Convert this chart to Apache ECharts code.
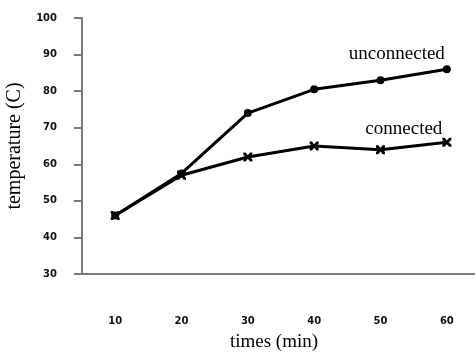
<!DOCTYPE html>
<html><head><meta charset="utf-8">
<script src="https://cdn.jsdelivr.net/npm/echarts@6/dist/echarts.min.js"></script>
<style>html,body{margin:0;padding:0;background:#fff}#c{width:475px;height:356px}</style>
</head><body><div id="c"></div>
<script>
const categories = ['10', '20', '30', '40', '50', '60'];
const unconnected = [46, 57.5, 74, 80.5, 83, 86];
const connected = [46, 57, 62, 65, 64, 66];
const yTicks = {min: 30, max: 100, interval: 10};

const chart = echarts.init(document.getElementById('c'), null, {renderer: 'canvas'});
const serif = '"Liberation Serif", "Times New Roman", serif';
const tickFont = {fontFamily: '"DejaVu Sans", sans-serif', fontSize: 10, fontWeight: 'bold', color: '#111'};
const xMark = 'path://M0,0 L2.5,0 L5,3 L7.5,0 L10,0 L10,2.5 L7,5 L10,7.5 L10,10 L7.5,10 L5,7 L2.5,10 L0,10 L0,7.5 L3,5 L0,2.5 Z';

function lastLabel(arr, name, offset) {
  return arr.map((v, i) => i === arr.length - 1 ? {
    value: v,
    label: {show: true, position: 'top', distance: 0, formatter: name, offset: offset,
      fontFamily: serif, fontSize: 19, color: '#000'}
  } : v);
}

chart.setOption({
  animation: false,
  grid: {left: 82, right: -5, top: 18, bottom: 82, containLabel: false, outerBoundsMode: 'none'},
  xAxis: {
    type: 'category', data: categories, boundaryGap: true,
    axisLine: {lineStyle: {color: '#7a7a7a', width: 2}},
    axisTick: {show: false},
    axisLabel: Object.assign({margin: 42}, tickFont),
    name: 'times (min)', nameLocation: 'middle', nameGap: 59,
    nameTextStyle: {fontFamily: serif, fontSize: 19, color: '#000', padding: [0, 14, 0, 0]}
  },
  yAxis: {
    type: 'value', min: yTicks.min, max: yTicks.max, interval: yTicks.interval,
    axisLine: {show: true, lineStyle: {color: '#7a7a7a', width: 2}},
    axisTick: {show: true, length: 8, lineStyle: {color: '#7a7a7a', width: 2}},
    splitLine: {show: false},
    axisLabel: Object.assign({margin: 25}, tickFont),
    name: 'temperature (C)', nameLocation: 'middle', nameGap: 54, nameRotate: 90,
    nameTextStyle: {fontFamily: serif, fontSize: 20, color: '#000'}
  },
  series: [
    {
      name: 'unconnected', type: 'line', data: lastLabel(unconnected, 'unconnected', [-50, -2]),
      symbol: 'circle', symbolSize: 8,
      lineStyle: {color: '#000', width: 3}, itemStyle: {color: '#000'}
    },
    {
      name: 'connected', type: 'line', data: lastLabel(connected, 'connected', [-43, 1]),
      symbol: xMark, symbolSize: 9,
      lineStyle: {color: '#000', width: 3}, itemStyle: {color: '#000'}
    }
  ]
});
</script></body></html>
